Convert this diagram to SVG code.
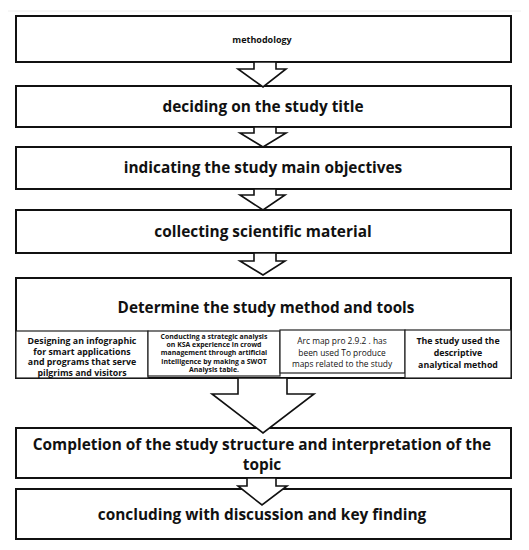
<svg xmlns="http://www.w3.org/2000/svg" width="529" height="550" viewBox="0 0 529 550">
<style>
.box{fill:#fff;stroke:#111;stroke-width:2}
.sub{fill:#fff;stroke:#222;stroke-width:1.2}
.arr{fill:#fff;stroke:#111;stroke-width:1.6;stroke-linejoin:miter}
text{font-family:"Open Sans","Liberation Sans",Arial,sans-serif;font-weight:bold;fill:#111;text-anchor:middle}
.t{font-size:15.4px}
.s{font-size:8.8px}
.xs{font-size:6.9px}
.r{font-size:8.4px;font-weight:normal}
</style>
<rect x="0" y="0" width="529" height="550" fill="#fff"/>
<line x1="8" y1="11" x2="521" y2="11" stroke="#eee" stroke-width="1"/>
<g id="n1"><rect class="box" x="16" y="16" width="495" height="46"/><text x="262" y="43" style="font-size:9px">methodology</text></g>
<g id="n2"><rect class="box" x="16" y="86" width="495" height="41"/><text class="t" x="263" y="112">deciding on the study title</text></g>
<g id="n3"><rect class="box" x="16" y="147" width="495" height="42"/><text class="t" x="263" y="173">indicating the study main objectives</text></g>
<g id="n4"><rect class="box" x="16" y="210" width="495" height="43"/><text class="t" x="263" y="237">collecting scientific material</text></g>
<g id="n5"><rect class="box" x="16" y="278" width="495" height="100"/><text x="266" y="313" style="font-size:15.3px">Determine the study method and tools</text>
<g id="n5a"><rect class="sub" x="16" y="331" width="132" height="47"/><text class="s"><tspan x="82" y="344">Designing an infographic</tspan><tspan x="82" y="354.5">for smart applications</tspan><tspan x="82" y="365">and programs that serve</tspan><tspan x="82" y="375.5">pilgrims and visitors</tspan></text></g>
<g id="n5b"><rect class="sub" x="148" y="331" width="132" height="45"/><text class="xs"><tspan x="214" y="339">Conducting a strategic analysis</tspan><tspan x="214" y="347.2">on KSA experience in crowd</tspan><tspan x="214" y="355.4">management through artificial</tspan><tspan x="214" y="363.6">intelligence by making a SWOT</tspan><tspan x="214" y="371.8">Analysis table.</tspan></text></g>
<g id="n5c"><rect class="sub" x="280" y="330" width="125" height="43"/><text class="r"><tspan x="342" y="344">Arc map pro 2.9.2 . has</tspan><tspan x="342" y="355.5">been used To produce</tspan><tspan x="342" y="367">maps related to the study</tspan></text></g>
<g id="n5d"><rect class="sub" x="405" y="330" width="106" height="48"/><text class="s"><tspan x="458" y="344">The study used the</tspan><tspan x="458" y="356">descriptive</tspan><tspan x="458" y="368">analytical method</tspan></text></g>
</g>
<g id="n6"><rect class="box" x="16" y="428" width="495" height="50"/><text class="t"><tspan x="262" y="450">Completion of the study structure and interpretation of the</tspan><tspan x="262" y="470">topic</tspan></text></g>
<g id="n7"><rect class="box" x="16" y="489" width="495" height="50"/><text class="t" x="262" y="520">concluding with discussion and key finding</text></g>
<g id="connectors">
<polygon class="arr" points="254,62 276,62 276,69 286,69 263,87 238,69 254,69"/>
<polygon class="arr" points="254,127 276,127 276,133 286,133 263,147 240,133 254,133"/>
<polygon class="arr" points="254,189 276,189 276,195 285,195 263,210 240,195 254,195"/>
<polygon class="arr" points="254,253 276,253 276,261 285,261 263,275 240,261 254,261"/>
<polygon class="arr" points="238,378 287,378 287,394 314,394 263,433 212,394 238,394"/>
<polygon class="arr" points="247,478 276,478 276,486 287,486 262,505 238,486 247,486"/>
</g>
</svg>
